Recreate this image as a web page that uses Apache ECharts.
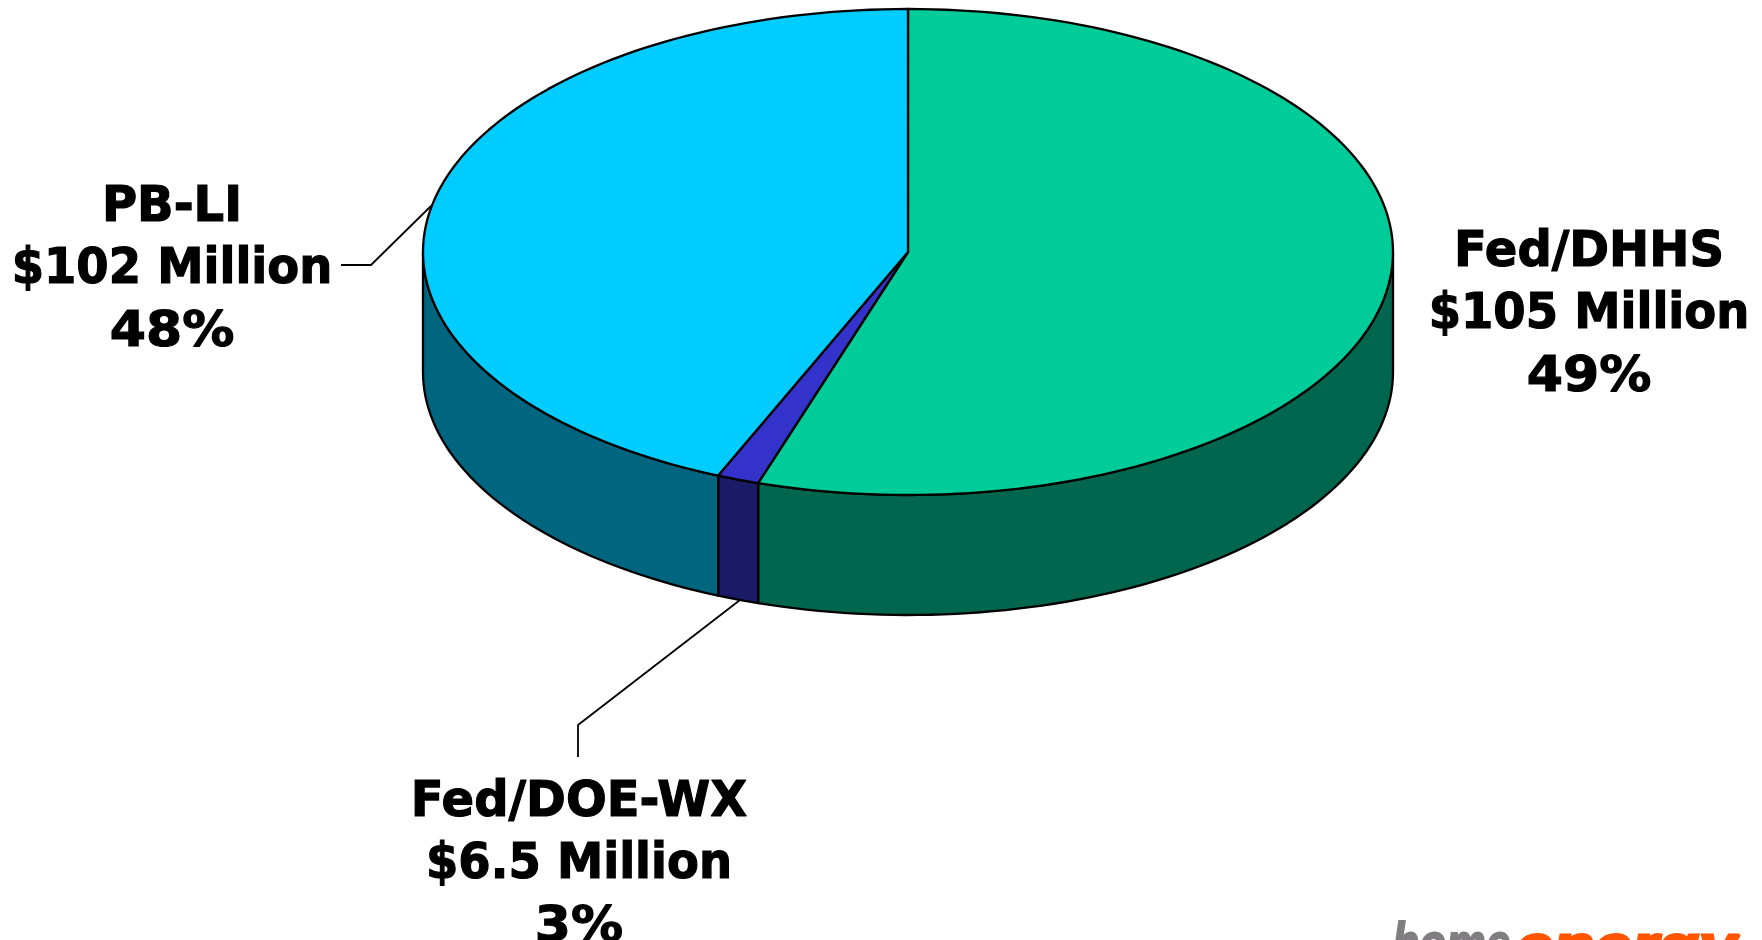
<!DOCTYPE html>
<html><head><meta charset="utf-8">
<style>html,body{margin:0;padding:0;background:#fff}#c{width:1762px;height:940px}</style>
<script src="https://cdn.jsdelivr.net/npm/echarts@6/dist/echarts.min.js"></script>
</head><body><div id="c"></div>
<script>
// Share of the drawn circle for each slice (clockwise from 12 o'clock)
const categories = ['Fed/DHHS', 'Fed/DOE-WX', 'PB-LI'];
const drawnShare = [55.0, 1.4, 43.6];
const dollars = ['$105 Million', '$6.5 Million', '$102 Million'];
const percents = ['49%', '3%', '48%'];
const topColors = ['#00CC99', '#3333CC', '#00CCFF'];
const sideColors = ['#00664D', '#1A1A66', '#006680'];

const CX = 908, CY = 252, RX = 485, RY = 243, DEPTH = 120;
const labelPos = [[1589, 267], [579, 817], [172, 222]];
const LINE_H = 62.5, FS = 50, LINE_SX = [0.96, 0.93, 1.04];

const total = drawnShare.reduce((a, b) => a + b, 0);
const pt = (deg, dy) => {
  const t = deg * Math.PI / 180;
  return [CX + RX * Math.sin(t), CY - RY * Math.cos(t) + (dy || 0)];
};
const arc = (a, b, dy) => {
  const out = [];
  const n = Math.max(1, Math.ceil(Math.abs(b - a) / 1.5));
  for (let i = 0; i <= n; i++) out.push(pt(a + (b - a) * i / n, dy));
  return out;
};

function renderItem(params, api) {
  let start = 0;
  for (let i = 0; i < params.dataIndex; i++) start += drawnShare[i];
  const a0 = start / total * 360;
  const a1 = (start + api.value(0)) / total * 360;
  const i = params.dataIndex;
  const line = { stroke: '#000', lineWidth: 2.3, lineJoin: 'round' };
  const children = [];
  const s0 = Math.max(a0, 90), s1 = Math.min(a1, 270);
  if (s1 > s0) {
    children.push({
      type: 'polygon',
      shape: { points: arc(s0, s1, 0).concat(arc(s1, s0, DEPTH)) },
      style: Object.assign({ fill: sideColors[i] }, line)
    });
  }
  children.push({
    type: 'polygon',
    shape: { points: [[CX, CY]].concat(arc(a0, a1, 0)) },
    style: Object.assign({ fill: topColors[i] }, line)
  });
  return { type: 'group', children };
}

const graphic = [];
categories.forEach((name, i) => {
  [name, dollars[i], percents[i]].forEach((txt, k) => {
    graphic.push({
      type: 'text',
      x: labelPos[i][0],
      y: labelPos[i][1] + k * LINE_H - FS * 0.365 + 4,
      scaleX: LINE_SX[k],
      style: {
        text: txt, fill: '#000', align: 'center', verticalAlign: 'middle',
        stroke: '#000', lineWidth: 1.2,
        font: 'bold ' + FS + 'px "DejaVu Sans"'
      }
    });
  });
});
// Leader lines
[
  [[341, 265], [371, 265], [431, 206]],
  [[740, 600], [578, 725], [578, 757]]
].forEach(points => graphic.push({
  type: 'polyline', shape: { points },
  style: { stroke: '#000', lineWidth: 1.8, fill: null }
}));
// Logo, cropped by the bottom of the page
graphic.push({
  type: 'text', x: 1392, y: 947, scaleX: 0.74,
  style: { text: 'home', fill: '#807E80', stroke: '#807E80', lineWidth: 2, align: 'left', verticalAlign: 'middle',
    font: 'italic bold 60px "Liberation Sans"' }
});
graphic.push({
  type: 'text', x: 1516, y: 949, scaleX: 1.12,
  style: { text: 'energy', fill: '#FF5500', stroke: '#FF5500', lineWidth: 3, align: 'left', verticalAlign: 'middle',
    font: 'italic bold 60px "Liberation Sans"' }
});

const chart = echarts.init(document.getElementById('c'), null, { renderer: 'canvas' });
chart.setOption({
  animation: false,
  backgroundColor: '#fff',
  graphic,
  series: [{
    type: 'custom',
    coordinateSystem: 'none',
    renderItem,
    data: drawnShare.map((v, i) => ({ name: categories[i], value: [v] }))
  }]
});
</script></body></html>
